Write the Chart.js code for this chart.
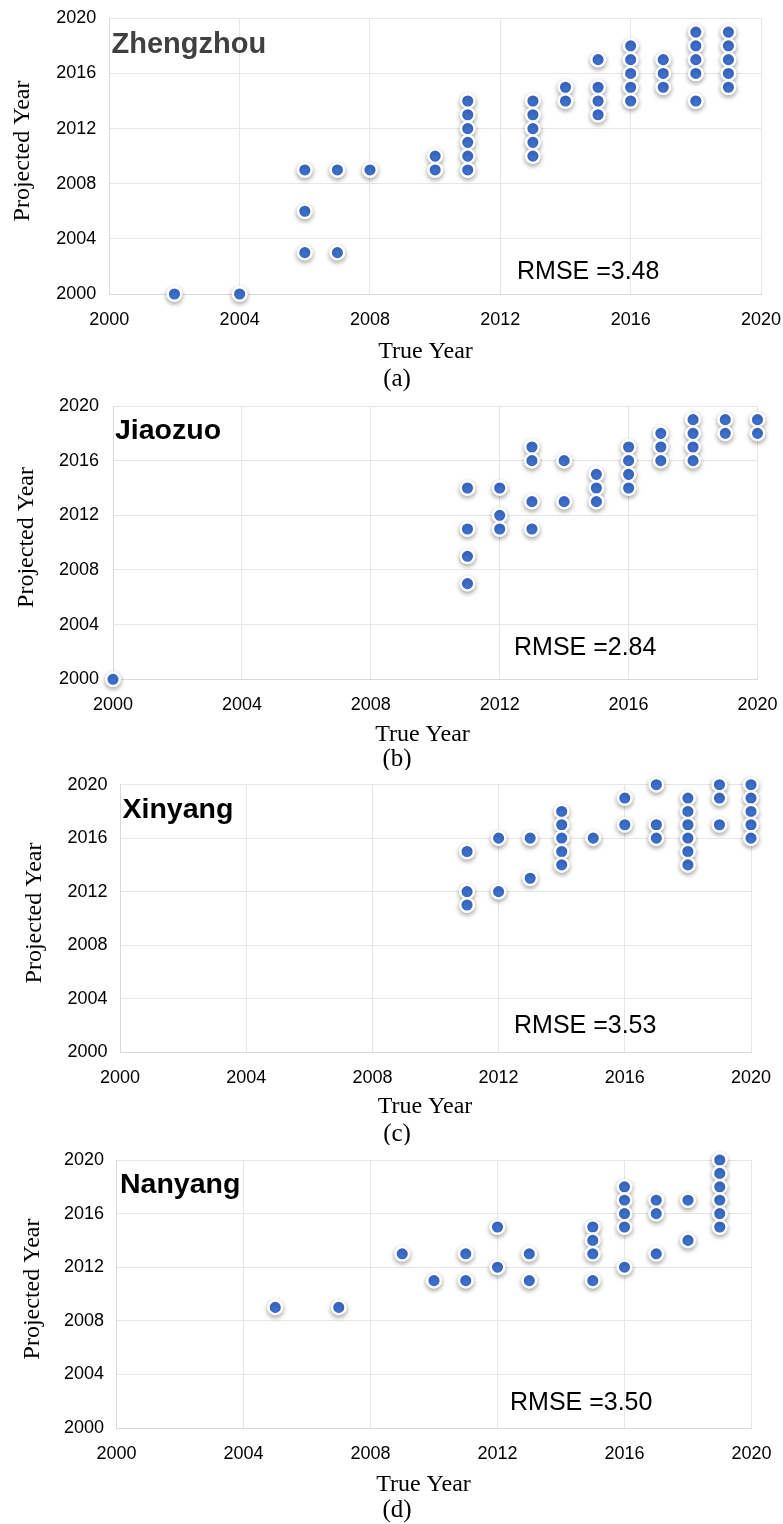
<!DOCTYPE html>
<html><head><meta charset="utf-8">
<script src="https://cdn.jsdelivr.net/npm/chart.js@4.4.1/dist/chart.umd.min.js"></script>
<style>
html,body{margin:0;padding:0;background:#fff;}
#wrap{position:relative;width:783px;height:1524px;overflow:hidden;background:#fff;}
canvas{position:absolute;left:0;}
</style></head><body>
<div id="wrap">
<canvas id="c0"></canvas>
<canvas id="c1"></canvas>
<canvas id="c2"></canvas>
<canvas id="c3"></canvas>
</div>
<script>
// ---------- data ----------
const yearTicks = [2000, 2004, 2008, 2012, 2016, 2020];
const cityNames = ['Zhengzhou', 'Jiaozuo', 'Xinyang', 'Nanyang'];
const rmseValues = ['3.48', '2.84', '3.53', '3.50'];
const captions = ['(a)', '(b)', '(c)', '(d)'];
const xAxisTitle = 'True Year';
const yAxisTitle = 'Projected Year';

const zhengzhouTrue = [2002,2004,2006,2006,2006,2007,2007,2008,2010,2010,2011,2011,2011,2011,2011,2011,2013,2013,2013,2013,2013,2014,2014,2015,2015,2015,2015,2016,2016,2016,2016,2016,2017,2017,2017,2018,2018,2018,2018,2018,2019,2019,2019,2019,2019];
const zhengzhouProjected = [2000,2000,2009,2006,2003,2009,2003,2009,2010,2009,2014,2013,2012,2011,2010,2009,2014,2013,2012,2011,2010,2015,2014,2017,2015,2014,2013,2018,2017,2016,2015,2014,2017,2016,2015,2019,2018,2017,2016,2014,2019,2018,2017,2016,2015];

const jiaozuoTrue = [2000,2011,2011,2011,2011,2012,2012,2012,2013,2013,2013,2013,2014,2014,2015,2015,2015,2016,2016,2016,2016,2017,2017,2017,2018,2018,2018,2018,2019,2019,2020,2020];
const jiaozuoProjected = [2000,2014,2011,2009,2007,2014,2012,2011,2017,2016,2013,2011,2016,2013,2015,2014,2013,2017,2016,2015,2014,2018,2017,2016,2019,2018,2017,2016,2019,2018,2019,2018];

const xinyangTrue = [2011,2011,2011,2012,2012,2013,2013,2014,2014,2014,2014,2014,2015,2016,2016,2017,2017,2017,2018,2018,2018,2018,2018,2018,2019,2019,2019,2020,2020,2020,2020,2020];
const xinyangProjected = [2015,2012,2011,2016,2012,2016,2013,2018,2017,2016,2015,2014,2016,2019,2017,2020,2017,2016,2019,2018,2017,2016,2015,2014,2020,2019,2017,2020,2019,2018,2017,2016];

const nanyangTrue = [2005,2007,2009,2010,2011,2011,2012,2012,2013,2013,2015,2015,2015,2015,2016,2016,2016,2016,2016,2017,2017,2017,2018,2018,2019,2019,2019,2019,2019,2019];
const nanyangProjected = [2009,2009,2013,2011,2013,2011,2015,2012,2013,2011,2015,2014,2013,2011,2018,2017,2016,2015,2012,2017,2016,2013,2017,2014,2020,2019,2018,2017,2016,2015];

const seriesTrue = [zhengzhouTrue, jiaozuoTrue, xinyangTrue, nanyangTrue];
const seriesProjected = [zhengzhouProjected, jiaozuoProjected, xinyangProjected, nanyangProjected];

// ---------- layout (page pixels) ----------
const panels = [
  {top:0,    h:393, L:109.3, R:761,   T:18.3,  B:294,    yPad:13,   nameX:111.5, nameY:53,   nameSize:29,   nameColor:'#404040', rmseX:517, rmseY:278.5, xtX:425.5, xtY:358,  ytX:22.5, ytY:151,  capX:397, capY:386},
  {top:393,  h:377, L:113,   R:757.5, T:406,   B:679.3,  yPad:14,   nameX:115,   nameY:439,  nameSize:28.5, nameColor:'#000',    rmseX:514, rmseY:655,   xtX:422.5, xtY:741,  ytX:27,   ytY:537.5,capX:397, capY:766},
  {top:770,  h:375, L:120,   R:751,   T:784.7, B:1052,   yPad:12.5, nameX:122.5, nameY:818,  nameSize:28.5, nameColor:'#000',    rmseX:514, rmseY:1033,  xtX:425,   xtY:1113, ytX:35,   ytY:913,  capX:397, capY:1141},
  {top:1145, h:379, L:116.5, R:751.5, T:1160,  B:1428,   yPad:12.5, nameX:120,   nameY:1193, nameSize:28.5, nameColor:'#000',    rmseX:510, rmseY:1410,  xtX:423.5, xtY:1491, ytX:32.5, ytY:1289, capX:397, capY:1517}
];
const Y_AXIS_W = 60, X_AXIS_H = 48;
const sans = 'Liberation Sans, Arial, sans-serif';
const serif = 'Liberation Serif, Times New Roman, serif';

const shadowPlugin = {
  id: 'dotShadow',
  beforeDatasetsDraw(chart) {
    const ctx = chart.ctx;
    ctx.save();
    ctx.shadowColor = 'rgba(0,0,0,0.32)';
    ctx.shadowBlur = 5;
    ctx.shadowOffsetX = 0;
    ctx.shadowOffsetY = 2;
  },
  afterDatasetsDraw(chart) { chart.ctx.restore(); }
};

function makeTextPlugin(i) {
  const p = panels[i];
  return {
    id: 'texts' + i,
    afterDraw(chart) {
      const ctx = chart.ctx;
      const o = p.top;
      ctx.save();
      ctx.fillStyle = p.nameColor;
      ctx.font = 'bold ' + p.nameSize + 'px ' + sans;
      ctx.textAlign = 'left'; ctx.textBaseline = 'alphabetic';
      ctx.fillText(cityNames[i], p.nameX, p.nameY - o);
      ctx.fillStyle = '#000';
      ctx.font = '25px ' + sans;
      ctx.fillText('RMSE =' + rmseValues[i], p.rmseX, p.rmseY - o);
      ctx.font = '24px ' + serif;
      ctx.textAlign = 'center';
      ctx.fillText(xAxisTitle, p.xtX, p.xtY - o);
      ctx.font = '25px ' + serif;
      ctx.fillText(captions[i], p.capX, p.capY - o);
      ctx.translate(p.ytX, p.ytY - o);
      ctx.rotate(-Math.PI / 2);
      ctx.font = '24px ' + serif;
      ctx.textBaseline = 'middle';
      ctx.fillText(yAxisTitle, 0, 0);
      ctx.restore();
    }
  };
}

panels.forEach((p, i) => {
  const cv = document.getElementById('c' + i);
  cv.width = 783; cv.height = p.h;
  cv.style.top = p.top + 'px';
  cv.style.width = '783px'; cv.style.height = p.h + 'px';
  const pts = seriesTrue[i].map((x, k) => ({x: x, y: seriesProjected[i][k]}));
  const tickFont = {family: sans, size: 18};
  new Chart(cv, {
    type: 'scatter',
    data: {datasets: [{
      data: pts,
      backgroundColor: '#3f73d4',
      borderColor: '#ffffff',
      borderWidth: 2.5,
      pointRadius: 6.8,
      pointHoverRadius: 6.8,
      clip: false
    }]},
    options: {
      responsive: false,
      animation: false,
      devicePixelRatio: 1,
      events: [],
      layout: {padding: {
        left: p.L - Y_AXIS_W,
        right: 783 - p.R,
        top: p.T - p.top,
        bottom: p.h - (p.B - p.top) - X_AXIS_H
      }},
      plugins: {legend: {display: false}, tooltip: {enabled: false}, title: {display: false}},
      scales: {
        x: {
          type: 'linear', min: 2000, max: 2020,
          afterBuildTicks: s => { s.ticks = yearTicks.map(v => ({value: v})); },
          afterFit: s => { s.height = X_AXIS_H; s.paddingLeft = 0; s.paddingRight = 0; },
          grid: {color: '#e6e6e6', lineWidth: 1, drawTicks: false},
          border: {display: true, color: '#d9d9d9', width: 1},
          ticks: {padding: 15, font: tickFont, color: '#000', maxRotation: 0, autoSkip: false, callback: v => String(v)}
        },
        y: {
          type: 'linear', min: 2000, max: 2020,
          afterBuildTicks: s => { s.ticks = yearTicks.map(v => ({value: v})); },
          afterFit: s => { s.width = Y_AXIS_W; s.paddingTop = 0; s.paddingBottom = 0; },
          grid: {color: '#e6e6e6', lineWidth: 1, drawTicks: false},
          border: {display: true, color: '#d9d9d9', width: 1},
          ticks: {padding: p.yPad, font: tickFont, color: '#000', autoSkip: false, callback: v => String(v)}
        }
      }
    },
    plugins: [shadowPlugin, makeTextPlugin(i)]
  });
});
</script>
</body></html>
